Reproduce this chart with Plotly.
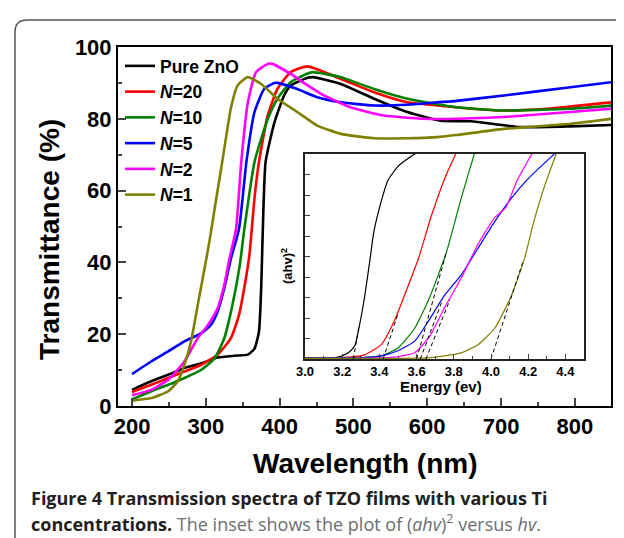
import plotly.graph_objects as go

# ---------------- data: main transmittance spectra ----------------
names = ["Pure ZnO", "<i>N</i>=20", "<i>N</i>=10", "<i>N</i>=5", "<i>N</i>=2", "<i>N</i>=1"]
colors = ["#000000", "#ff0000", "#008000", "#0000ff", "#ff00ff", "#808000"]

wl_pure = [200, 226, 249, 271, 294, 316, 339, 357, 366, 372, 375, 377, 381, 393, 406, 415, 438, 445, 483, 528, 573, 618, 659, 726, 794, 850]
t_pure = [4.5, 6.9, 8.7, 10.6, 11.9, 13.5, 14.0, 14.3, 16.0, 20.7, 32.8, 47.5, 68, 79, 86.5, 89.3, 91.4, 91.6, 89.7, 85.6, 81.9, 79.5, 79.3, 77.7, 77.9, 78.3]

wl_n20 = [200, 226, 249, 271, 294, 316, 334, 345, 352, 359, 366, 372, 384, 397, 415, 438, 483, 528, 573, 620, 660, 704, 762, 850]
t_n20 = [3.9, 5.9, 7.8, 9.6, 11.5, 14.3, 18.9, 25.4, 32.8, 42, 58, 68, 81, 88.3, 93, 94.6, 91.1, 87.4, 84.6, 83.6, 82.8, 82.3, 82.8, 84.6]

wl_n10 = [200, 226, 249, 271, 294, 312, 325, 336, 346, 352, 366, 384, 397, 415, 438, 445, 483, 528, 573, 640, 704, 794, 850]
t_n10 = [1.8, 4.1, 5.9, 7.8, 10.1, 13.3, 18.9, 28.1, 39.2, 49, 68, 80, 85.6, 90.2, 92.6, 93, 91.6, 88.3, 85.6, 83.2, 82.3, 82.8, 83.7]

wl_n5 = [200, 226, 249, 271, 294, 307, 316, 325, 334, 345, 355, 366, 379, 393, 397, 424, 451, 483, 528, 573, 614, 640, 704, 794, 850]
t_n5 = [8.9, 12.4, 15.2, 18, 20.3, 22.6, 26.3, 32.8, 41, 49.4, 68, 81.9, 88.3, 90, 90, 88.3, 86, 84.6, 83.7, 83.9, 84.6, 85, 86.5, 88.8, 90.2]

wl_n2 = [200, 226, 249, 271, 289, 303, 316, 325, 332, 341, 348, 357, 368, 384, 390, 415, 438, 460, 496, 541, 596, 640, 704, 794, 850]
t_n2 = [3.0, 4.5, 7.3, 12.4, 18.9, 22.6, 27.2, 33.7, 41, 49.4, 68, 84.6, 93, 95.3, 95.3, 92.5, 89.3, 86.5, 83.2, 80.9, 80, 80, 80.5, 81.9, 82.8]

wl_n1 = [200, 226, 249, 262, 271, 280, 289, 298, 305, 312, 323, 334, 343, 357, 375, 397, 424, 451, 483, 528, 573, 614, 640, 704, 794, 850]
t_n1 = [1.5, 2.2, 4.1, 6.9, 11.5, 18, 28.1, 38, 46, 55, 69, 83, 89.3, 91.6, 89.7, 85.6, 81.9, 78.1, 75.8, 74.6, 74.6, 74.9, 75.5, 77.2, 78.6, 80]

# ---------------- data: inset (ahv)^2 vs energy ----------------
e_pure = [3.00, 3.15, 3.20, 3.24, 3.27, 3.29, 3.32, 3.35, 3.37, 3.41, 3.445, 3.50, 3.59, 3.65]
a_pure = [0.05, 0.05, 0.15, 0.35, 0.7, 1.5, 3.0, 4.9, 6.2, 7.7, 8.7, 9.4, 10.0, 10.2]

e_n20 = [3.00, 3.15, 3.25, 3.32, 3.41, 3.48, 3.55, 3.61, 3.68, 3.76, 3.81, 3.84]
a_n20 = [0.03, 0.05, 0.1, 0.2, 0.7, 1.85, 3.46, 4.9, 7.0, 9.0, 10.0, 10.7]

e_n10 = [3.00, 3.20, 3.30, 3.41, 3.50, 3.59, 3.67, 3.76, 3.84, 3.91, 3.94]
a_n10 = [0.03, 0.05, 0.08, 0.15, 0.54, 1.5, 3.0, 5.2, 7.85, 10.0, 11.0]

e_n5 = [3.00, 3.30, 3.41, 3.50, 3.59, 3.66, 3.75, 3.84, 3.93, 4.02, 4.11, 4.20, 4.34, 4.40]
a_n5 = [0.03, 0.05, 0.15, 0.4, 0.87, 1.8, 3.1, 4.1, 5.4, 6.7, 7.85, 8.8, 10.0, 10.5]

e_n2 = [3.00, 3.40, 3.50, 3.59, 3.67, 3.75, 3.84, 3.93, 4.02, 4.08, 4.14, 4.22, 4.26]
a_n2 = [0.02, 0.05, 0.12, 0.3, 1.1, 2.5, 3.95, 5.6, 6.9, 7.4, 8.7, 10.0, 10.6]

e_n1 = [3.00, 3.50, 3.66, 3.75, 3.84, 3.93, 4.02, 4.11, 4.18, 4.23, 4.29, 4.35, 4.38]
a_n1 = [0.02, 0.03, 0.05, 0.15, 0.3, 0.7, 1.5, 3.1, 4.9, 6.7, 8.5, 10.0, 10.8]

# tangent (band-gap extrapolation) lines: start at a=0, end point
tan_e0 = [3.26, 3.42, 3.60, 3.62, 3.65, 4.00]
tan_e1 = [3.29, 3.50, 3.76, 3.74, 3.78, 4.17]
tan_a1 = [1.6, 2.2, 5.2, 2.9, 2.9, 4.7]

main_x = [wl_pure, wl_n20, wl_n10, wl_n5, wl_n2, wl_n1]
main_y = [t_pure, t_n20, t_n10, t_n5, t_n2, t_n1]
ins_x = [e_pure, e_n20, e_n10, e_n5, e_n2, e_n1]
ins_y = [a_pure, a_n20, a_n10, a_n5, a_n2, a_n1]

x_ticks = [200, 300, 400, 500, 600, 700, 800]
y_ticks = [0, 20, 40, 60, 80, 100]
inset_ticks = [3.0, 3.2, 3.4, 3.6, 3.8, 4.0, 4.2, 4.4]

# ---------------- layout helpers (pixel -> paper) ----------------
W, H = 624, 538
L, R, T, B = 110, 603, 39, 398
def px(x):
    return (x - L) / (R - L)
def py(y):
    return (B - y) / (B - T)

fig = go.Figure()

for i in range(6):
    fig.add_trace(go.Scatter(
        x=main_x[i], y=main_y[i], mode="lines", name=names[i],
        line=dict(color=colors[i], width=2.6, shape="spline", smoothing=0.5),
        xaxis="x", yaxis="y"))

for i in range(6):
    fig.add_trace(go.Scatter(
        x=ins_x[i], y=ins_y[i], mode="lines", showlegend=False,
        line=dict(color=colors[i], width=1.2, shape="spline", smoothing=0.5),
        xaxis="x2", yaxis="y2"))

for i in range(6):
    fig.add_trace(go.Scatter(
        x=[tan_e0[i], tan_e1[i]], y=[0, tan_a1[i]], mode="lines", showlegend=False,
        line=dict(color="#000000", width=1, dash="4px,3px"),
        xaxis="x2", yaxis="y2"))

bold = dict(family="Liberation Sans, Arial", color="#000000", weight="bold")

fig.update_layout(
    width=W, height=H,
    margin=dict(l=L, r=W - R, t=T, b=H - B, autoexpand=False),
    paper_bgcolor="white", plot_bgcolor="white",
    showlegend=True,
    legend=dict(x=px(112), y=py(40), xanchor="left", yanchor="top",
                bgcolor="rgba(0,0,0,0)", borderwidth=0,
                font=dict(size=17.5, **bold), tracegroupgap=0),
    xaxis=dict(range=[181, 849], tickvals=x_ticks, ticks="inside", ticklen=8, tickwidth=2,
               showline=True, linewidth=2, linecolor="black", mirror=True,
               showgrid=False, zeroline=False,
               tickfont=dict(size=22, **bold),
               minor=dict(ticks="inside", ticklen=4, tickwidth=2, dtick=50, tick0=150, showgrid=False)),
    yaxis=dict(range=[0, 100], tickvals=y_ticks, ticks="inside", ticklen=8, tickwidth=2,
               showline=True, linewidth=2, linecolor="black", mirror=True,
               showgrid=False, zeroline=False,
               tickfont=dict(size=22, **bold),
               minor=dict(ticks="inside", ticklen=4, tickwidth=2, dtick=10, tick0=0, showgrid=False)),
    xaxis2=dict(domain=[px(297), px(576)], anchor="y2", range=[3.0, 4.5],
                tickvals=inset_ticks, tickformat=".1f", ticks="inside", ticklen=5, tickwidth=1,
                showline=True, linewidth=1.5, linecolor="#222", mirror=True,
                showgrid=False, zeroline=False,
                tickfont=dict(size=13, **bold),
                minor=dict(ticks="inside", ticklen=3, tickwidth=1, dtick=0.1, tick0=3.0, showgrid=False)),
    yaxis2=dict(domain=[py(351), py(146)], anchor="x2", range=[0, 10],
                dtick=1, showticklabels=False, ticks="inside", ticklen=5, tickwidth=1,
                showline=True, linewidth=1.5, linecolor="#222", mirror=True,
                showgrid=False, zeroline=False),
)

# axis titles and caption as text
annos = [
    dict(text="Wavelength (nm)", x=px(357), y=py(455), font=dict(size=28, **bold)),
    dict(text="Transmittance (%)", x=px(41), y=py(232), textangle=-90, font=dict(size=28, **bold)),
    dict(text="Energy (ev)", x=px(433), y=py(378), font=dict(size=15, **bold)),
    dict(text="(ahv)<sup>2</sup>", x=px(279), y=py(258), textangle=-90, font=dict(size=13, **bold)),
    dict(text="<b>Figure 4 Transmission spectra of TZO films with various Ti</b>",
         x=px(21), y=py(490), xanchor="left", font=dict(size=18, family="Open Sans", color="#231f20")),
    dict(text="<b>concentrations.</b> <span style='color:#6d6e71'>The inset shows the plot of (<i>ahv</i>)<sup>2</sup> versus <i>hv</i>.</span>",
         x=px(21), y=py(515), xanchor="left", font=dict(size=18, family="Open Sans", color="#231f20")),
]
for a in annos:
    a.setdefault("xanchor", "center")
    a.update(xref="paper", yref="paper", showarrow=False, yanchor="middle")
    fig.add_annotation(**a)

# rounded outer frame (open at the bottom)
x0, x1 = px(7), px(619)
yt, yb = py(12), py(560)
rx, ry = 12 / (R - L), 12 / (B - T)
path = (f"M {x0},{yb} L {x0},{yt - ry} Q {x0},{yt} {x0 + rx},{yt} "
        f"L {x1 - rx},{yt} Q {x1},{yt} {x1},{yt - ry} L {x1},{yb}")
fig.add_shape(type="path", path=path, xref="paper", yref="paper",
              line=dict(color="#555555", width=1.5), layer="below")

fig.write_html("out.html")
